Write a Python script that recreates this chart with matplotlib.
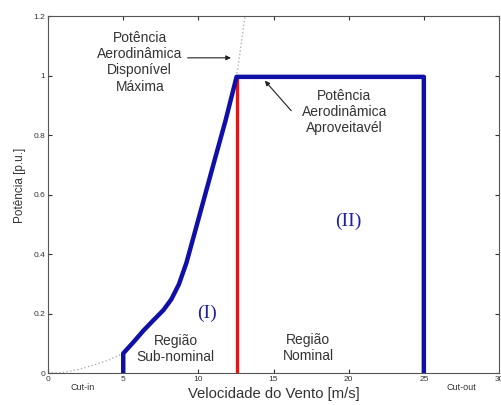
import matplotlib
matplotlib.use("Agg")
import matplotlib.pyplot as plt

plt.rcParams["font.family"] = ["Liberation Sans", "DejaVu Sans"]

# Potência aerodinâmica disponível (curva pontilhada)
v_disp = [0, 1, 2, 3, 4, 5, 5.7, 6.35, 7.0, 7.68, 8.2, 8.7, 9.2, 9.8, 10.45,
          11.1, 11.8, 12.54, 12.8, 13.1]
p_disp = [0, 0.002, 0.012, 0.026, 0.043, 0.066, 0.105, 0.143, 0.177, 0.212, 0.248,
          0.298, 0.37, 0.48, 0.6, 0.72, 0.848, 0.996, 1.09, 1.2]

# Potência aproveitada (curva azul)
v_aprov = [5, 5, 5.7, 6.35, 7.0, 7.68, 8.2, 8.7, 9.2, 9.8, 10.45, 11.1, 11.8, 12.54, 25, 25]
p_aprov = [0, 0.066, 0.105, 0.143, 0.177, 0.212, 0.248, 0.298, 0.37, 0.48, 0.6,
           0.72, 0.848, 0.996, 0.996, 0]

# Velocidade nominal (linha vermelha)
v_nom = [12.6, 12.6]
p_nom = [0, 0.99]

x_ticks = [0, 5, 10, 15, 20, 25, 30]
y_ticks = [0, 0.2, 0.4, 0.6, 0.8, 1.0, 1.2]
y_ticklabels = ["0", "0.2", "0.4", "0.6", "0.8", "1", "1.2"]

fig = plt.figure(figsize=(5.01, 4.05), dpi=100)
ax = fig.add_axes([0.096, 0.079, 0.9, 0.881])

ax.plot(v_disp, p_disp, color="#b0b0b0", linestyle=":", linewidth=1.0, zorder=1)
ax.plot(v_nom, p_nom, color="#ee1111", linewidth=2.4, zorder=2)
ax.plot(v_aprov, p_aprov, color="#1010a8", linewidth=3.2, zorder=3,
        solid_joinstyle="round")

ax.set_xlim(0, 30)
ax.set_ylim(0, 1.2)
ax.set_xticks(x_ticks)
ax.set_yticks(y_ticks)
ax.set_yticklabels(y_ticklabels)
ax.tick_params(direction="in", top=True, right=True, labelsize=6, length=3,
               colors="#333333", pad=2)
for s in ax.spines.values():
    s.set_color("#555555")
    s.set_linewidth(0.8)

ax.set_xlabel("Velocidade do Vento [m/s]", fontsize=10.7, color="#333333", labelpad=3)
ax.set_ylabel("Potência [p.u.]", fontsize=8.5, color="#333333")
ax.yaxis.set_label_coords(-0.05, 0.525)

txt = dict(ha="center", va="center", fontsize=10, color="#333333", linespacing=1.2)

ax.annotate("", xy=(12.35, 1.06), xytext=(9.1, 1.06),
            arrowprops=dict(arrowstyle="-|>", color="#222222", lw=0.8,
                            mutation_scale=7))
ax.text(6.1, 1.045, "Potência\nAerodinâmica\nDisponível\nMáxima", **txt)

ax.annotate("", xy=(14.3, 0.99), xytext=(16.3, 0.875),
            arrowprops=dict(arrowstyle="-|>", color="#222222", lw=0.8,
                            mutation_scale=7))
ax.text(19.7, 0.877, "Potência\nAerodinâmica\nAproveitavél", **txt)

ax.text(8.5, 0.08, "Região\nSub-nominal", **txt)
ax.text(17.3, 0.085, "Região\nNominal", **txt)

roman = dict(ha="center", va="center", fontsize=14, color="#2020a0",
             family=["Liberation Serif", "DejaVu Serif"])
ax.text(10.6, 0.2, "(I)", **roman)
ax.text(20.0, 0.51, "(II)", **roman)

ax.text(2.3, -0.05, "Cut-in", ha="center", va="center", fontsize=6.5,
        color="#333333", clip_on=False)
ax.text(27.5, -0.05, "Cut-out", ha="center", va="center", fontsize=6.5,
        color="#333333", clip_on=False)

fig.savefig("out.png", dpi=100)
